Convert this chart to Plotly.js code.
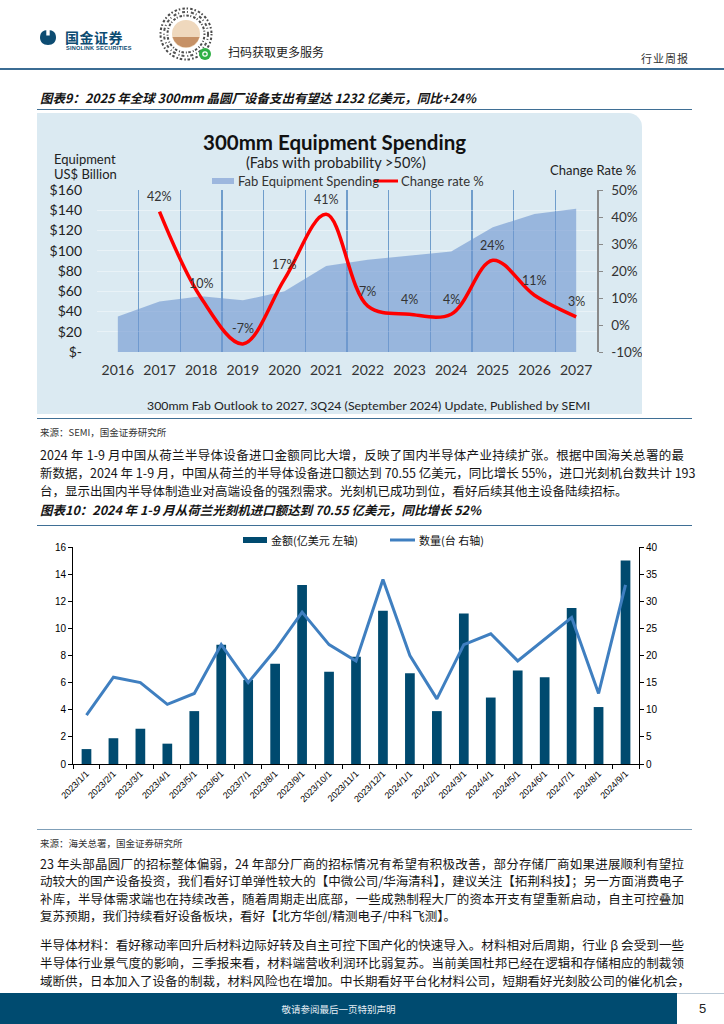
<!DOCTYPE html>
<html><head><meta charset="utf-8">
<script src="https://cdn.plot.ly/plotly-3.0.1.min.js"></script>
<style>
html,body{margin:0;padding:0;background:#fff;}
#page{position:relative;width:724px;height:1024px;overflow:hidden;font-family:"Noto Sans CJK SC",sans-serif;color:#111;}
.abs{position:absolute;}
.hl{position:absolute;left:37px;width:655px;height:0;border-top:1.5px solid #3f6f95;}
.ttl{position:absolute;left:40px;font-size:12.5px;font-weight:700;font-style:italic;line-height:16px;white-space:nowrap;color:#151515;}
.src{position:absolute;left:40px;font-size:9.5px;line-height:12px;color:#333;white-space:nowrap;}
.ln{position:absolute;left:40px;width:644px;font-size:12.5px;line-height:16px;text-align:justify;text-align-last:justify;white-space:nowrap;color:#161616;}
.ln.last{text-align-last:left;}
</style>
</head>
<body>
<div id="page">
  <!-- header -->
  <svg class="abs" style="left:40px;top:30px" width="16" height="15" viewBox="0 0 16 15">
    <path d="M8,0 C13.5,0 16,3 16,7.5 C16,12 13,15 8,15 C3,15 0,12 0,7.5 C0,3 2.5,0 8,0Z" fill="#0d4c72"/>
    <rect x="6.3" y="0" width="3.4" height="5.5" fill="#fff"/>
  </svg>
  <div class="abs" style="left:65px;top:29px;font-size:14px;font-weight:700;color:#0d4c72;letter-spacing:0.5px;line-height:16px;">国金证券</div>
  <div class="abs" style="left:66px;top:45px;font-family:'Liberation Sans',sans-serif;font-size:5.6px;font-weight:700;color:#0d4c72;line-height:7px;letter-spacing:0.2px;">SINOLINK SECURITIES</div>
  <svg class="abs" style="left:157px;top:5px" width="58" height="58" viewBox="0 0 58 58">
    <circle cx="29" cy="29" r="27" fill="#fff"/>
    <circle cx="29" cy="29" r="25.5" fill="none" stroke="#4a4a4a" stroke-width="2" stroke-dasharray="1.5 2.2 2.5 1.8"/>
    <circle cx="29" cy="29" r="22" fill="none" stroke="#555" stroke-width="2" stroke-dasharray="3 2 1 3"/>
    <circle cx="29" cy="29" r="18.5" fill="none" stroke="#4a4a4a" stroke-width="2" stroke-dasharray="1 2 2.5 1.5"/>
    <circle cx="29" cy="29" r="14" fill="#efd8bd"/>
    <path d="M15.5,32 A14,14 0 0 0 42.5,32 Z" fill="#c69166"/>
    <circle cx="48" cy="49" r="6" fill="#2fb045"/>
    <circle cx="48" cy="49" r="2.2" fill="none" stroke="#fff" stroke-width="1.2"/>
  </svg>
  <div class="abs" style="left:228px;top:44px;font-size:12px;line-height:16px;color:#222;">扫码获取更多服务</div>
  <div class="abs" style="left:641px;top:51px;font-size:11px;line-height:14px;color:#333;letter-spacing:1px;">行业周报</div>
  <div class="abs" style="left:0;top:68px;width:724px;border-top:2px solid #3b6c93;"></div>

  <!-- chart 9 -->
  <div class="ttl" style="top:90px;">图表9：2025 年全球 300mm 晶圆厂设备支出有望达 1232 亿美元，同比+24%</div>
  <div class="hl" style="top:109px;"></div>
  <div class="abs" style="left:37px;top:113px;width:605px;height:301px;background:#dbeaf2;border-top-right-radius:14px;"></div>
  <div id="chart1" class="abs" style="left:37px;top:113px;width:605px;height:301px;"></div>
  <div class="hl" style="top:418px;"></div>
  <div class="src" style="top:426px;">来源：SEMI，国金证券研究所</div>

  <div class="ln" style="top:447px;">2024 年 1-9 月中国从荷兰半导体设备进口金额同比大增，反映了国内半导体产业持续扩张。根据中国海关总署的最</div>
  <div class="ln" style="top:465px;">新数据，2024 年 1-9 月，中国从荷兰的半导体设备进口额达到 70.55 亿美元，同比增长 55%，进口光刻机台数共计 193</div>
  <div class="ln last" style="top:483px;">台，显示出国内半导体制造业对高端设备的强烈需求。光刻机已成功到位，看好后续其他主设备陆续招标。</div>

  <!-- chart 10 -->
  <div class="ttl" style="top:502px;">图表10：2024 年 1-9 月从荷兰光刻机进口额达到 70.55 亿美元，同比增长 52%</div>
  <div class="hl" style="top:525px;"></div>
  <div id="chart2" class="abs" style="left:0;top:530px;width:724px;height:300px;"></div>
  <div class="hl" style="top:829px;border-top-color:#7f9fb8;"></div>
  <div class="src" style="top:837px;">来源：海关总署，国金证券研究所</div>

  <div class="ln" style="top:856px;">23 年头部晶圆厂的招标整体偏弱，24 年部分厂商的招标情况有希望有积极改善，部分存储厂商如果进展顺利有望拉</div>
  <div class="ln" style="top:873px;">动较大的国产设备投资，我们看好订单弹性较大的【中微公司/华海清科】，建议关注【拓荆科技】；另一方面消费电子</div>
  <div class="ln" style="top:891px;">补库，半导体需求端也在持续改善，随着周期走出底部，一些成熟制程大厂的资本开支有望重新启动，自主可控叠加</div>
  <div class="ln last" style="top:908px;">复苏预期，我们持续看好设备板块，看好【北方华创/精测电子/中科飞测】。</div>

  <div class="ln" style="top:937px;">半导体材料：看好稼动率回升后材料边际好转及自主可控下国产化的快速导入。材料相对后周期，行业 β 会受到一些</div>
  <div class="ln" style="top:955px;">半导体行业景气度的影响，三季报来看，材料端营收利润环比弱复苏。当前美国杜邦已经在逻辑和存储相应的制裁领</div>
  <div class="ln" style="top:973px;">域断供，日本加入了设备的制裁，材料风险也在增加。中长期看好平台化材料公司，短期看好光刻胶公司的催化机会，</div>

  <!-- footer -->
  <div class="abs" style="left:0;top:993px;width:724px;border-top:1px solid #b9c9d6;"></div>
  <div class="abs" style="left:0;top:993px;width:677px;height:31px;background:#004b70;"></div>
  <div class="abs" style="left:0;top:1002px;width:677px;text-align:center;font-size:9.5px;line-height:14px;color:#e6eef4;">敬请参阅最后一页特别声明</div>
  <div class="abs" style="left:699px;top:1001px;font-family:'Liberation Sans',sans-serif;font-size:13px;line-height:16px;color:#222;">5</div>
</div>

<script>
// ---------- Chart 9 data ----------
const years = ['2016','2017','2018','2019','2020','2021','2022','2023','2024','2025','2026','2027'];
const fabSpending = [35, 50, 55, 51, 60, 85, 91, 95, 99.3, 123.2, 136.2, 141.4];
const changeRate = [null, 42, 10, -7, 17, 41, 7, 4, 4, 24, 11, 3];
const changeLabels = changeRate.map(v => v === null ? '' : v + '%');
const leftTickVals = [0, 20, 40, 60, 80, 100, 120, 140, 160];
const leftTickText = ['$-', '$20', '$40', '$60', '$80', '$100', '$120', '$140', '$160'];
const rightTickVals = [-10, 0, 10, 20, 30, 40, 50];
const rightTickText = ['-10%', '0%', '10%', '20%', '30%', '40%', '50%'];

// ---------- Chart 10 data ----------
const months = ['2023/1/1','2023/2/1','2023/3/1','2023/4/1','2023/5/1','2023/6/1','2023/7/1','2023/8/1','2023/9/1','2023/10/1','2023/11/1','2023/12/1','2024/1/1','2024/2/1','2024/3/1','2024/4/1','2024/5/1','2024/6/1','2024/7/1','2024/8/1','2024/9/1'];
const amount = [1.1, 1.9, 2.6, 1.5, 3.9, 8.8, 6.2, 7.4, 13.2, 6.8, 7.9, 11.3, 6.7, 3.9, 11.1, 4.9, 6.9, 6.4, 11.5, 4.2, 15.0];
const units = [9, 16, 15, 11, 13, 22, 15, 21, 28, 22, 19, 34, 20, 12, 22, 24, 19, 23, 27, 13, 33];

const LATO = 'Lato, "Open Sans", sans-serif';
const CJK = '"Noto Sans CJK SC", sans-serif';
const ARIAL = '"Liberation Sans", Arial, sans-serif';

// ---- chart 1 ----
(function(){
  const W = 605, H = 301, L = 60, R = 45, T = 77, B = 62;
  const ox = 37, oy = 113;
  const pw = W - L - R, ph = H - T - B;
  const px = x => (x - ox - L) / pw;
  const py = y => (oy + T + ph - y) / ph;
  const areaColor = 'rgba(112,150,208,0.62)';
  const traces = [
    {type:'scatter', x: years, y: fabSpending, mode:'lines', line:{width:0}, fill:'tozeroy',
     fillcolor: areaColor, hoverinfo:'skip', showlegend:false},
    {type:'scatter', x: years, y: changeRate, yaxis:'y2', mode:'lines',
     line:{color:'#ff0000', width:3.5, shape:'spline', smoothing:1}, cliponaxis:false,
     hoverinfo:'skip', showlegend:false}
  ];
  const ann = (x, y, text, size, opts) => Object.assign({xref:'paper', yref:'paper', x: px(x), y: py(y), text,
     showarrow:false, xanchor:'center', yanchor:'middle', font:{family:LATO, size, color:'#222'}}, opts||{});
  const rateLabels = [];
  changeRate.forEach((v, i) => {
    if (v === null) return;
    rateLabels.push({xref:'x', yref:'y2', x: i, y: v, text: changeLabels[i], showarrow:false,
      xanchor:'center', yanchor:'middle', yshift:15, font:{family:LATO, size:12.5, color:'#333'}});
  });
  const layout = {
    width: W, height: H, margin:{l:L, r:R, t:T, b:B, pad:0},
    paper_bgcolor:'rgba(0,0,0,0)', plot_bgcolor:'rgba(0,0,0,0)',
    showlegend:false,
    xaxis:{type:'category', tickson:'boundaries', showgrid:true, gridcolor:'#6f9dcb', gridwidth:1.5,
      ticks:'', showline:false, zeroline:false, range:[-0.5, 11.5], ticklabelstandoff:8,
      tickfont:{family:LATO, size:14, color:'#333'}},
    yaxis:{range:[0,160], tickvals:leftTickVals, ticktext:leftTickText, showgrid:true,
      gridcolor:'rgba(255,255,255,0.4)', gridwidth:1, zeroline:false, showline:false, ticks:'',
      ticklabelstandoff:14, tickfont:{family:LATO, size:14, color:'#222'}},
    yaxis2:{overlaying:'y', side:'right', range:[-10,50], tickvals:rightTickVals, ticktext:rightTickText,
      showgrid:false, zeroline:false, showline:true, linecolor:'#8a8a8a', linewidth:1.5,
      ticks:'outside', ticklen:4, tickcolor:'#8a8a8a', ticklabelstandoff:6,
      tickfont:{family:LATO, size:13.5, color:'#333'}},
    annotations:[
      ann(334, 142, '<b>300mm Equipment Spending</b>', 20.5, {font:{family:LATO, size:20.5, color:'#111'}}),
      ann(336, 163, '(Fabs with probability >50%)', 14.5),
      ann(52, 159, 'Equipment', 13, {xanchor:'left'}),
      ann(52, 174, 'US$ Billion', 13, {xanchor:'left'}),
      ann(593, 170, 'Change Rate %', 13),
      ann(236, 181, 'Fab Equipment Spending', 13, {xanchor:'left', font:{family:LATO, size:13, color:'#333'}}),
      ann(399, 181, 'Change rate %', 13, {xanchor:'left', font:{family:LATO, size:13, color:'#333'}}),
      ann(368, 405, '300mm Fab Outlook to 2027, 3Q24 (September 2024) Update, Published by SEMI', 12.3)
    ].concat(rateLabels),
    shapes:[
      {type:'rect', xref:'paper', yref:'paper', x0:px(212), x1:px(234), y0:py(184), y1:py(178),
       fillcolor:'#9db7de', line:{width:0}},
      {type:'line', xref:'paper', yref:'paper', x0:px(374), x1:px(398), y0:py(181), y1:py(181),
       line:{color:'#ff0000', width:3}}
    ]
  };
  Plotly.newPlot('chart1', traces, layout, {staticPlot:true, displayModeBar:false});
})();

// ---- chart 2 ----
(function(){
  const W = 724, H = 300, L = 73, R = 85, T = 17, B = 66;
  const oy = 530;
  const pw = W - L - R, ph = H - T - B;
  const px = x => (x - L) / pw;
  const py = y => (oy + T + ph - y) / ph;
  const barColor = '#004a6f', lineColor = '#3f7fc0';
  const traces = [
    {type:'bar', x: months, y: amount, marker:{color: barColor}, hoverinfo:'skip', showlegend:false},
    {type:'scatter', x: months, y: units, yaxis:'y2', mode:'lines', line:{color: lineColor, width:3},
     hoverinfo:'skip', showlegend:false, cliponaxis:false}
  ];
  const layout = {
    width: W, height: H, margin:{l:L, r:R, t:T, b:B, pad:0},
    paper_bgcolor:'#fff', plot_bgcolor:'#fff', showlegend:false, bargap:0.64,
    xaxis:{type:'category', tickson:'boundaries', ticks:'outside', ticklen:4, tickcolor:'#000',
      showline:true, linecolor:'#000', linewidth:1, showgrid:false, zeroline:false, range:[-0.5, 20.5],
      tickangle:-45, tickfont:{family:ARIAL, size:9, color:'#000'}},
    yaxis:{range:[0,16], dtick:2, ticks:'outside', ticklen:4, tickcolor:'#000', showline:true,
      linecolor:'#000', linewidth:1, showgrid:false, zeroline:false,
      tickfont:{family:ARIAL, size:10, color:'#000'}},
    yaxis2:{overlaying:'y', side:'right', range:[0,40], dtick:5, ticks:'outside', ticklen:4, tickcolor:'#000',
      showline:true, linecolor:'#000', linewidth:1, showgrid:false, zeroline:false,
      tickfont:{family:ARIAL, size:10, color:'#000'}},
    annotations:[
      {xref:'paper', yref:'paper', x:px(269), y:py(540), text:'金额(亿美元 左轴)', showarrow:false,
       xanchor:'left', yanchor:'middle', font:{family:CJK, size:11, color:'#111'}},
      {xref:'paper', yref:'paper', x:px(417), y:py(540), text:'数量(台 右轴)', showarrow:false,
       xanchor:'left', yanchor:'middle', font:{family:CJK, size:11, color:'#111'}}
    ],
    shapes:[
      {type:'rect', xref:'paper', yref:'paper', x0:px(243), x1:px(267), y0:py(543), y1:py(537),
       fillcolor: barColor, line:{width:0}},
      {type:'line', xref:'paper', yref:'paper', x0:px(390), x1:px(415), y0:py(540), y1:py(540),
       line:{color: lineColor, width:3}}
    ]
  };
  Plotly.newPlot('chart2', traces, layout, {staticPlot:true, displayModeBar:false});
})();
</script>
</body></html>
